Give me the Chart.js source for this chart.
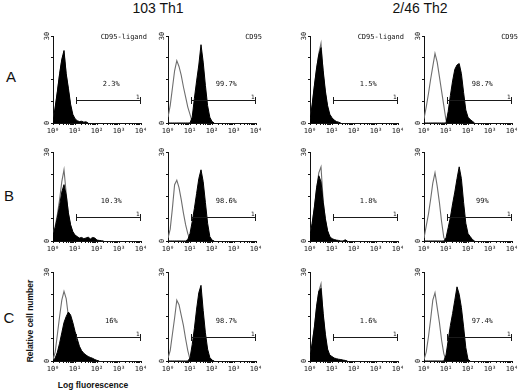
<!DOCTYPE html>
<html>
<head>
<meta charset="utf-8">
<script src="https://cdn.jsdelivr.net/npm/chart.js@4.4.0/dist/chart.umd.min.js"></script>
<style>
  html, body { margin: 0; padding: 0; background: #fff; }
  #figure { position: relative; width: 520px; height: 390px; overflow: hidden; font-family: "Liberation Sans", Arial, sans-serif; color: #111; }
  #figure canvas { position: absolute; }
  .lbl { position: absolute; white-space: nowrap; line-height: 1; transform: translate(-50%, -50%); }
  .title { font-size: 14px; }
  .row { font-size: 15px; }
  .axis { font-size: 8.5px; font-weight: bold; }
  .vert { transform: translate(-50%, -50%) rotate(-90deg); }
</style>
</head>
<body>
<div id="figure">
  <div class="lbl title" style="left:158px;top:8px">103 Th1</div>
  <div class="lbl title" style="left:420px;top:8px">2/46 Th2</div>
  <div class="lbl row" style="left:11px;top:76px">A</div>
  <div class="lbl row" style="left:9px;top:195px">B</div>
  <div class="lbl row" style="left:9px;top:317px">C</div>
  <div class="lbl axis vert" style="left:30px;top:321px">Relative cell number</div>
  <div class="lbl axis" style="left:93px;top:385px">Log fluorescence</div>
</div>
<script>
// fluorescence channel, in decades (10^0 .. 10^2.4)
const bins = [0, 0.1, 0.2, 0.3, 0.4, 0.5, 0.6, 0.7, 0.8, 0.9, 1.0, 1.1, 1.2,
  1.3, 1.4, 1.5, 1.6, 1.7, 1.8, 1.9, 2.0, 2.1, 2.2, 2.3, 2.4]
const decadeLabels = ['10⁰', '10¹', '10²', '10³', '10⁴']
const stainNames = ['CD95-ligand', 'CD95', 'CD95-ligand', 'CD95']

const percentA = ['2.3%', '99.7%', '1.5%', '98.7%']
const percentB = ['10.3%', '98.6%', '1.8%', '99%']
const percentC = ['16%', '98.7%', '1.6%', '97.4%']

// row A
const a1Stain = [0.5, 5.5, 11, 17, 22, 25, 17, 12, 6.5, 3, 1.5, 0.8, 0.5, 0.6, 0.3, 0.4, 0]
const a1Ctrl = [0.5, 5, 10.5, 16.5, 21.5, 24, 16.5, 11, 5.5, 2, 0.8, 0]
const a2Stain = [0, 0, 0, 0, 0, 0, 0, 0, 0, 0, 0, 2, 8.5, 14.5, 20, 27, 21, 13, 6, 2, 0.5, 0]
const a2Ctrl = [2, 6, 12, 18, 21.5, 19.5, 16.5, 12.5, 9, 5.5, 3, 0.5, 0]
const a3Stain = [1, 6.5, 13, 19, 23.5, 26, 18, 11, 6, 3, 1.8, 1, 0.5, 0.3, 0]
const a3Ctrl = [1, 6, 12.5, 18.5, 24, 27.5, 17, 10, 5, 2, 1, 0]
const a4Stain = [0, 0, 0, 0, 0, 0, 0, 0, 0, 0, 0, 4, 9.5, 14.5, 18.5, 20, 20.5, 17, 10.5, 4.5, 2, 1.2, 0.6, 0]
const a4Ctrl = [1.5, 5.5, 10, 15, 19.5, 24, 21, 16, 11, 6, 1, 0]

// row B
const b1Stain = [2, 4.5, 8, 12, 16.5, 19, 15.5, 9.5, 5.5, 3.2, 2, 1.5, 1, 1.2, 0.8, 1, 1.3, 0.7, 1.2, 1, 0.3, 0.2, 0.1, 0]
const b1Ctrl = [2, 5, 9, 14, 20, 24, 16, 9, 5, 2.5, 1.2, 0.5, 0]
const b2Stain = [0, 0, 0, 0, 0, 0, 0, 0, 0, 0.5, 2.5, 6.5, 11, 16, 21, 24, 20, 13, 6, 1.5, 0.3, 0]
const b2Ctrl = [1, 4, 11, 19, 20.5, 18, 14, 9.5, 5.5, 2.5, 0.3, 0]
const b3Stain = [2, 6, 11.5, 18, 22, 20, 13, 7.5, 3.5, 1.5, 0.8, 0.5, 0.3, 0.2, 0, 0, 0.4, 0]
const b3Ctrl = [2, 6, 11, 17.5, 23, 25, 13.5, 7, 3, 1, 0.3, 0]
const b4Stain = [0, 0, 0, 0, 0, 0, 0, 0, 0, 0, 1, 4.5, 8, 12.5, 16.5, 21, 25, 21, 13, 6, 2.5, 1.5, 0.5, 0]
const b4Ctrl = [1, 5, 9, 14, 19.5, 23, 18.5, 13, 6.5, 1.2, 0]

// row C
const c1Stain = [0, 1, 3, 6, 9.5, 13, 15, 16.5, 15.5, 13, 10, 7.5, 5, 3.5, 2.6, 2, 1.5, 1.2, 0.9, 0.5, 0.2, 0]
const c1Ctrl = [0.5, 3, 9, 15, 20.5, 23.5, 21, 15, 10.5, 7, 4.5, 2.5, 1.2, 0.5, 0]
const c2Stain = [0, 0, 0, 0, 0, 0, 0, 0, 0, 0, 1, 5.5, 11, 17.5, 23, 25.5, 17, 9.5, 4, 1.2, 0.3, 0]
const c2Ctrl = [1, 3.5, 9, 14.5, 20.5, 19, 15.5, 12, 7.5, 3.5, 0.5, 0]
const c3Stain = [1.5, 6, 11.5, 18.5, 23.5, 24.5, 16, 9, 4, 2, 1.5, 1, 0.8, 0.6, 0.5, 0.3, 0.2, 0]
const c3Ctrl = [1.5, 6, 11, 18, 23.5, 26, 15, 8, 3, 1, 0.3, 0]
const c4Stain = [0, 0, 0, 0, 0, 0, 0, 0, 0, 0, 2, 7, 12, 16, 20.5, 25, 22.5, 18, 11.5, 4.5, 0.5, 0]
const c4Ctrl = [0.5, 3, 8, 14, 20.5, 23, 18, 13, 7, 2.5, 0.2, 0]

const panels = [
  [[a1Stain, a1Ctrl], [a2Stain, a2Ctrl], [a3Stain, a3Ctrl], [a4Stain, a4Ctrl]],
  [[b1Stain, b1Ctrl], [b2Stain, b2Ctrl], [b3Stain, b3Ctrl], [b4Stain, b4Ctrl]],
  [[c1Stain, c1Ctrl], [c2Stain, c2Ctrl], [c3Stain, c3Ctrl], [c4Stain, c4Ctrl]],
]
const percents = [percentA, percentB, percentC]

// marker gate (decades / counts)
const gateFrom = 1.05
const gateTo = 4
const gateLevel = 8
const percentAt = 2.65
const percentLevel = 13.5

// where each plot box sits on the page
const colLeft = [53, 168, 310, 424]
const rowTop = [36, 152, 272]
const rowHeight = [87, 89, 89]
const plotWidth = 88
const padLeft = 22, padRight = 12, padTop = 6, padBottom = 16

const figure = document.getElementById('figure')
const monoFont = '"DejaVu Sans Mono", monospace'

function toPoints(values) {
  return values.map((v, i) => ({ x: bins[i], y: v }))
}

const gatePlugin = {
  id: 'gate',
  afterDatasetsDraw(chart, args, opts) {
    const { ctx, chartArea, scales: { x, y } } = chart
    const left = Math.round(x.getPixelForValue(gateFrom)) + 0.5
    const right = Math.round(x.getPixelForValue(gateTo)) - 0.5
    const level = Math.round(y.getPixelForValue(gateLevel)) + 0.5
    ctx.save()
    ctx.strokeStyle = '#1a1a1a'
    ctx.lineWidth = 1
    ctx.beginPath()
    ctx.moveTo(left, level)
    ctx.lineTo(right, level)
    ctx.moveTo(left, level - 3.5)
    ctx.lineTo(left, level + 3.5)
    ctx.moveTo(right, level - 3.5)
    ctx.lineTo(right, level + 3.5)
    ctx.stroke()

    ctx.fillStyle = '#111'
    ctx.textBaseline = 'middle'
    ctx.textAlign = 'center'
    ctx.font = `7px ${monoFont}`
    ctx.fillText(opts.percent, x.getPixelForValue(percentAt), y.getPixelForValue(percentLevel))
    ctx.font = `6px ${monoFont}`
    ctx.fillText('1', x.getPixelForValue(3.85), level - 3)
    if (opts.tag) {
      ctx.font = `7px ${monoFont}`
      ctx.textAlign = 'right'
      ctx.fillText(opts.tag, chartArea.right + 6, chartArea.top + 1)
    }
    ctx.restore()
  },
}

function drawPanel(row, col) {
  const [stain, ctrl] = panels[row][col]
  const canvas = document.createElement('canvas')
  canvas.width = plotWidth + padLeft + padRight
  canvas.height = rowHeight[row] + padTop + padBottom
  canvas.style.left = `${colLeft[col] - padLeft}px`
  canvas.style.top = `${rowTop[row] - padTop}px`
  figure.appendChild(canvas)

  new Chart(canvas, {
    type: 'line',
    data: {
      datasets: [
        {
          data: toPoints(stain),
          fill: 'origin',
          backgroundColor: '#000',
          borderColor: '#000',
          borderWidth: 1,
          pointRadius: 0,
          tension: 0,
        },
        {
          data: toPoints(ctrl),
          fill: false,
          borderColor: '#6e6e6e',
          borderWidth: 1.1,
          pointRadius: 0,
          tension: 0,
        },
      ],
    },
    options: {
      responsive: false,
      animation: false,
      layout: { autoPadding: false, padding: { top: padTop, right: padRight, left: 0, bottom: 0 } },
      plugins: {
        legend: { display: false },
        tooltip: { enabled: false },
        gate: { percent: percents[row][col], tag: row === 0 ? stainNames[col] : '' },
      },
      scales: {
        x: {
          type: 'linear',
          min: 0,
          max: 4,
          afterBuildTicks: (scale) => {
            const ticks = []
            for (let d = 0; d < 4; d++) {
              ticks.push({ value: d })
              for (let k = 2; k < 10; k++) ticks.push({ value: d + Math.log10(k) })
            }
            ticks.push({ value: 4 })
            scale.ticks = ticks
          },
          afterFit: (scale) => {
            scale.height = padBottom
            scale.paddingLeft = 0
            scale.paddingRight = 0
          },
          ticks: {
            autoSkip: false,
            maxRotation: 0,
            padding: 2,
            color: '#111',
            font: { family: monoFont, size: 7 },
            callback: (v) => Number.isInteger(v) ? decadeLabels[v] : '',
          },
          grid: { drawOnChartArea: false, tickLength: 2, color: '#111' },
          border: { color: '#111', width: 1 },
        },
        y: {
          min: 0,
          max: 30,
          afterFit: (scale) => {
            scale.width = padLeft
            scale.paddingTop = 0
            scale.paddingBottom = 0
          },
          ticks: {
            stepSize: 7.5,
            minRotation: 90,
            maxRotation: 90,
            crossAlign: 'center',
            padding: 0,
            color: '#111',
            font: { family: monoFont, size: 7 },
            callback: (v) => (v === 0 || v === 30) ? String(v) : '',
          },
          grid: { drawOnChartArea: false, tickLength: 2, color: '#111' },
          border: { color: '#111', width: 1 },
        },
      },
    },
    plugins: [gatePlugin],
  })
}

for (let row = 0; row < 3; row++) {
  for (let col = 0; col < 4; col++) {
    drawPanel(row, col)
  }
}
</script>
</body>
</html>
